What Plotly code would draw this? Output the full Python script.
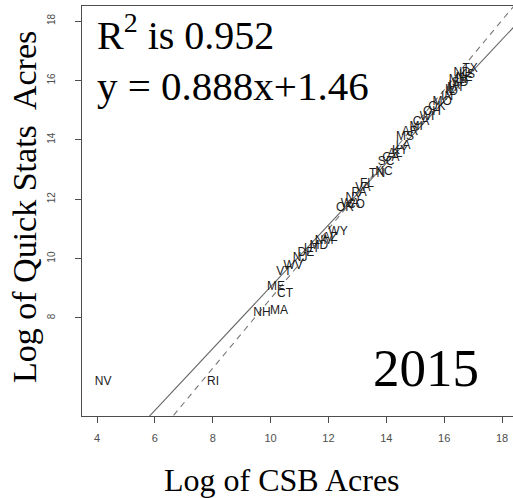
import plotly.graph_objects as go

# State labels with log CSB acres (x) and log Quick Stats acres (y), 2015
states = ["NV", "RI", "NH", "MA", "ME", "CT", "VT", "WV", "NJ", "DE",
          "UT", "MD", "NM", "AZ", "WY", "OR", "WA", "NY", "PA", "VA",
          "FL", "TN", "NC", "SC", "GA", "AL", "KY", "LA", "MS", "AR",
          "MI", "CA", "WI", "OH", "OK", "MO", "IN", "ID", "MT", "SD",
          "IL", "MN", "IA", "NE", "ND", "KS", "TX", "CO"]
log_csb = [4.21, 8.01, 9.70, 10.29, 10.19, 10.50, 10.46, 10.78, 11.02, 11.22,
           11.43, 11.67, 11.85, 12.05, 12.33, 12.57, 12.75, 12.88, 13.06, 13.19,
           13.33, 13.68, 13.92, 13.99, 14.16, 14.30, 14.47, 14.58, 14.65, 14.82,
           15.03, 15.20, 15.41, 15.58, 15.75, 15.93, 16.10, 16.27, 16.41, 16.55,
           16.20, 16.48, 16.35, 16.69, 16.62, 16.79, 16.90, 12.95]
log_qs = [7.60, 7.60, 9.59, 9.64, 10.33, 10.13, 10.76, 10.94, 11.17, 11.31,
          11.43, 11.52, 11.66, 11.74, 11.91, 12.60, 12.72, 12.89, 13.03, 13.18,
          13.29, 13.58, 13.64, 13.92, 14.04, 14.15, 14.24, 14.38, 14.64, 14.79,
          14.93, 15.07, 15.22, 15.36, 15.50, 15.65, 15.79, 15.93, 16.05, 16.19,
          16.00, 16.28, 16.10, 16.34, 16.48, 16.42, 16.60, 12.70]

# Fitted regression and the 1:1 reference line
slope, intercept = 0.888, 1.46
r_squared = 0.952
line_x = [3.0, 19.0]

x_ticks = [4, 6, 8, 10, 12, 14, 16, 18]
y_ticks = [8, 10, 12, 14, 16, 18]
year = "2015"

axis_grey = "#4d4d4d"
serif = "Liberation Serif, Times New Roman, serif"
sans = "Liberation Sans, Arial, sans-serif"

fig = go.Figure()

fig.add_trace(go.Scatter(
    x=line_x, y=[slope * v + intercept for v in line_x],
    mode="lines", line=dict(color="#666666", width=1.1),
    hoverinfo="skip", showlegend=False))
fig.add_trace(go.Scatter(
    x=line_x, y=line_x,
    mode="lines", line=dict(color="#777777", width=1.1, dash="6px,5px"),
    hoverinfo="skip", showlegend=False))
fig.add_trace(go.Scatter(
    x=log_csb, y=log_qs, text=states, mode="text",
    textposition="middle center",
    textfont=dict(family=sans, size=12, color="#1c1c1c"),
    cliponaxis=False, showlegend=False))
# empty trace so the printed left-hand tick scale is laid out
fig.add_trace(go.Scatter(x=[], y=[], mode="markers", yaxis="y2",
                         hoverinfo="skip", showlegend=False))

W, H = 513, 498
L, R, T, B = 82, 0, 6, 82
pw, ph = W - L - R, H - T - B


def px(xp):
    return (xp - L) / pw


def py(yp):
    return (H - B - yp) / ph


fig.update_layout(
    width=W, height=H,
    margin=dict(l=L, r=R, t=T, b=B, pad=0),
    paper_bgcolor="white", plot_bgcolor="white",
    xaxis=dict(range=[3.48, 18.38], tickvals=x_ticks, ticks="outside",
               ticklen=6, tickcolor=axis_grey, tickwidth=1,
               ticklabelstandoff=6,
               showline=True, linecolor=axis_grey, linewidth=1.3, mirror=True,
               showgrid=False, zeroline=False,
               tickfont=dict(family=sans, size=11, color=axis_grey)),
    # scale the labels and lines are plotted on
    yaxis=dict(range=[6.627, 18.41], showticklabels=False, ticks="",
               showline=True, linecolor=axis_grey, linewidth=1.3,
               showgrid=False, zeroline=False),
    # tick scale printed along the left edge
    yaxis2=dict(range=[4.70, 18.505], tickvals=y_ticks, ticks="outside",
                overlaying="y", side="left", anchor="x",
                ticklen=6, tickcolor=axis_grey, tickwidth=1, tickangle=-90,
                ticklabelstandoff=16,
                showline=False, showgrid=False, zeroline=False,
                tickfont=dict(family=sans, size=10, color=axis_grey)),
    annotations=[
        dict(text=f"R<sup>2</sup> is {r_squared}", xref="paper", yref="paper",
             x=px(95), y=py(33), xanchor="left", yanchor="middle",
             showarrow=False, font=dict(family=serif, size=40, color="black")),
        dict(text=f"y = {slope}x+{intercept}", xref="paper", yref="paper",
             x=px(95), y=py(86), xanchor="left", yanchor="middle",
             showarrow=False, font=dict(family=serif, size=41, color="black")),
        dict(text=year, xref="paper", yref="paper",
             x=px(371), y=py(368), xanchor="left", yanchor="middle",
             showarrow=False, font=dict(family=serif, size=53, color="black")),
        dict(text="Log of CSB Acres", xref="paper", yref="paper",
             x=px(282), y=py(480), xanchor="center", yanchor="middle",
             showarrow=False, font=dict(family=serif, size=32, color="black")),
        dict(text="Log of Quick Stats\u00a0 Acres", xref="paper", yref="paper",
             x=px(24), y=py(207), xanchor="center", yanchor="middle",
             textangle=-90, showarrow=False,
             font=dict(family=serif, size=34, color="black")),
    ],
)

fig.write_html("out.html")
